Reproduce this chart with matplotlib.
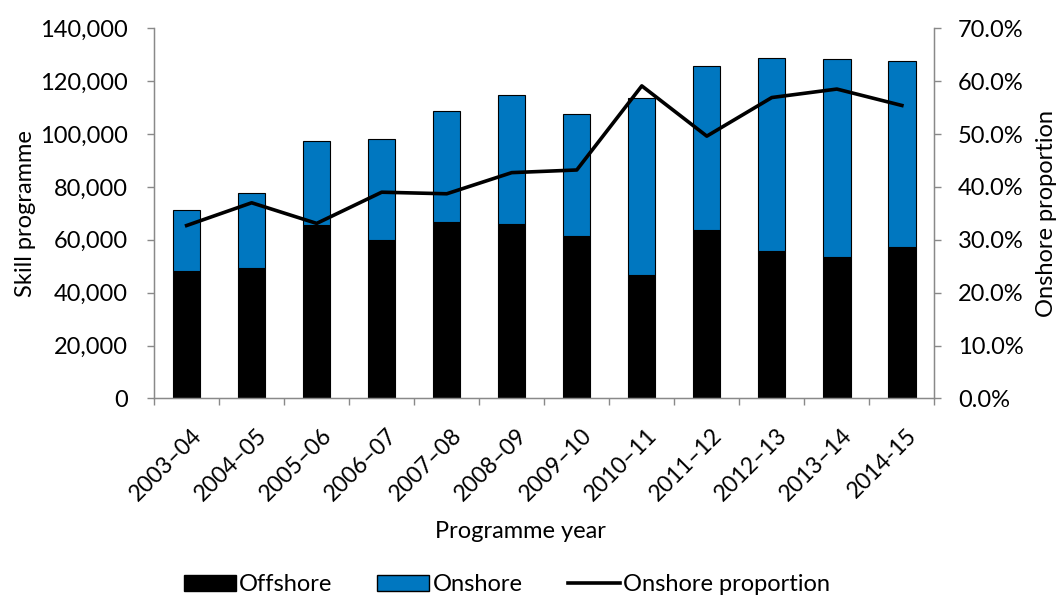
import matplotlib.pyplot as plt
import matplotlib.transforms as mtransforms
from matplotlib.lines import Line2D
from matplotlib.patches import Patch
from matplotlib.ticker import FuncFormatter, MultipleLocator
import numpy as np

plt.rcParams['font.family'] = ['Lato', 'DejaVu Sans']

years = ["2003\u201304", "2004\u201305", "2005\u201306", "2006\u201307", "2007\u201308", "2008\u201309",
         "2009\u201310", "2010\u201311", "2011\u201312", "2012\u201313", "2013\u201314", "2014-15"]
offshore = [48200, 49300, 65700, 60000, 66800, 66100, 61400, 46800, 63600, 55900, 53500, 57300]
total = [71300, 77800, 97400, 98100, 108700, 114800, 107700, 113800, 125700, 128900, 128500, 127800]
onshore = [t - o for t, o in zip(total, offshore)]
onshore_prop = [32.7, 37.0, 33.1, 39.0, 38.7, 42.7, 43.2, 59.1, 49.6, 56.9, 58.5, 55.4]

BLUE = "#0077C0"
GREY = "#898989"
FS = 17

fig = plt.figure(figsize=(10.63, 6.01), dpi=100)
ax = fig.add_axes([0.145, 0.337, 0.734, 0.616])
x = np.arange(len(years))

ax.bar(x, offshore, width=0.42, color="black", edgecolor="black", linewidth=0.8, zorder=2)
ax.bar(x, onshore, width=0.42, bottom=offshore, color=BLUE, edgecolor="black", linewidth=0.8, zorder=2)

ax.set_xlim(-0.5, len(years) - 0.5)
ax.set_ylim(0, 140000)
ax.yaxis.set_major_locator(MultipleLocator(20000))
ax.yaxis.set_major_formatter(FuncFormatter(lambda v, p: f"{v:,.0f}"))

# category ticks sit between the bars, labels under the bars
ax.set_xticks(np.arange(len(years) + 1) - 0.5)
ax.set_xticklabels([])
ax.set_xticks(x, minor=True)
ax.set_xticklabels(years, minor=True, rotation=45, ha="right", rotation_mode="anchor", fontsize=16.5)
ax.tick_params(axis="x", which="minor", length=0, pad=19)
ax.tick_params(axis="x", which="major", length=5, color=GREY, width=1)
ax.tick_params(axis="y", length=5, color=GREY, width=1, labelsize=FS, pad=14)
offset = mtransforms.ScaledTranslation(3 / 72, 0, fig.dpi_scale_trans)
for lab in ax.get_xticklabels(minor=True):
    lab.set_transform(lab.get_transform() + offset)

ax.spines["top"].set_visible(False)
for s in ["left", "bottom", "right"]:
    ax.spines[s].set_color(GREY)
    ax.spines[s].set_linewidth(1)

ax2 = ax.twinx()
ax2.plot(x, onshore_prop, color="black", linewidth=2.6, zorder=3)
ax2.set_ylim(0, 70)
ax2.yaxis.set_major_locator(MultipleLocator(10))
ax2.yaxis.set_major_formatter(FuncFormatter(lambda v, p: f"{v:.1f}%"))
ax2.tick_params(axis="y", length=5, color=GREY, width=1, labelsize=FS, pad=12)
ax2.spines["top"].set_visible(False)
for s in ["left", "bottom", "right"]:
    ax2.spines[s].set_color(GREY)

ax.set_ylabel("Skill programme", fontsize=FS, labelpad=3)
ax2.set_ylabel("Onshore proportion", fontsize=FS, labelpad=9)
ax.set_xlabel("Programme year", fontsize=FS)
ax.xaxis.set_label_coords(0.47, -0.33)

handles = [Patch(facecolor="black", edgecolor="black"),
           Patch(facecolor=BLUE, edgecolor="black"),
           Line2D([0], [0], color="black", linewidth=2.6)]
fig.legend(handles, ["Offshore", "Onshore", "Onshore proportion"], loc="center",
           bbox_to_anchor=(0.477, 0.027), ncol=3, frameon=False, fontsize=FS,
           handlelength=2.2, handletextpad=0.15, columnspacing=1.9)

fig.savefig("out.png", dpi=100)
